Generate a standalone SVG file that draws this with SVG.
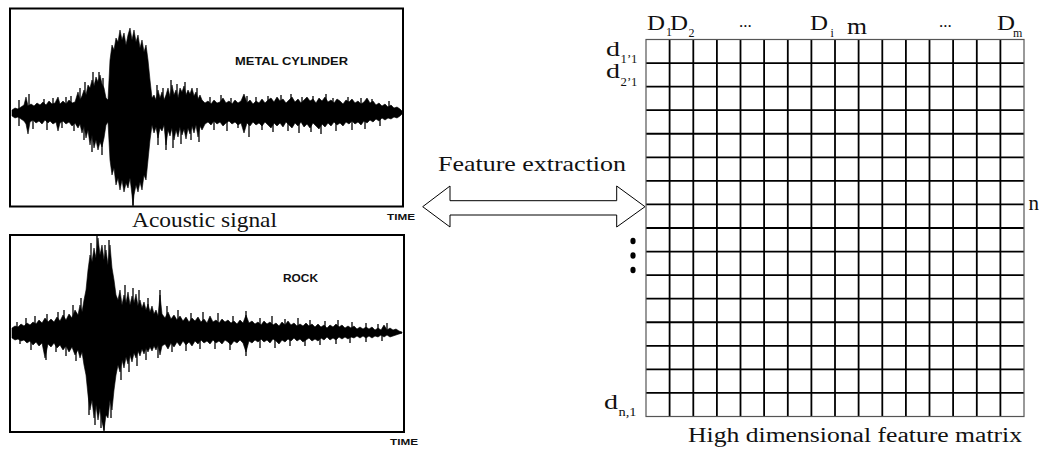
<svg xmlns="http://www.w3.org/2000/svg" width="1039" height="449" viewBox="0 0 1039 449">
<style>
.frame{fill:none;stroke:#000;stroke-width:2}
.wave{fill:#000;stroke:#000;stroke-width:0.6;stroke-linejoin:miter}
.spk{fill:none;stroke:#000;stroke-width:1.3}
.lbl{font-family:"Liberation Sans",Arial,sans-serif;font-weight:bold;fill:#111}
.ser{font-family:"Liberation Serif","DejaVu Serif",serif;fill:#111}
.grid{stroke:#000;stroke-width:1.8}
.border{fill:none;stroke:#555;stroke-width:1.2}
.arrow{fill:#fff;stroke:#000;stroke-width:1}
</style>
<rect width="1039" height="449" fill="#fff"/>

<g id="signal-metal">
<rect class="frame" x="10" y="8.5" width="393" height="198"/>
<path class="wave" d="M12,113 L12,110 15,108 18,109 21,107 24,105 26,97 28,106 31,104 34,106 37,103 40,105 43,102 46,105 49,101 52,104 55,103 58,97 60,104 63,101 66,104 69,100 72,103 75,102 78,92 80,100 82,96 84,90 86,95 88,85 90,88 92,80 94,86 96,77 98,82 100,75 102,84 104,88 106,98 108,100 110,60 112,45 114,50 116,38 118,42 120,30 122,40 124,33 126,45 128,35 130,28 132,40 134,30 136,42 138,35 140,48 142,40 144,52 146,45 148,60 150,80 152,98 154,95 156,100 158,90 160,98 162,92 164,100 166,95 168,88 170,97 172,85 174,95 176,90 178,98 180,88 182,92 184,86 186,95 188,90 190,94 192,88 194,96 196,92 198,99 200,95 202,100 205,103 208,101 211,104 214,100 217,103 220,102 223,98 226,103 229,101 232,104 235,100 238,103 241,101 244,94 247,103 250,100 253,104 256,101 259,103 262,99 265,103 268,100 271,98 274,102 277,97 280,101 283,99 286,103 289,100 292,97 295,102 298,99 301,103 304,100 307,97 310,101 313,99 316,103 319,98 322,101 325,97 328,102 331,100 334,103 337,99 340,101 343,104 346,100 349,102 352,99 355,103 358,101 361,104 364,102 367,98 370,103 373,101 376,105 379,103 382,106 385,104 388,107 391,105 394,108 397,107 400,109 402,111 402,113 Z"/>
<path class="wave" d="M12,113 L12,116 15,118 18,117 21,119 24,121 26,124 28,134 30,122 33,120 36,123 39,121 42,124 45,120 48,123 50,121 53,124 56,122 58,131 60,123 63,121 66,124 69,122 72,126 75,123 78,128 80,124 82,133 84,126 86,138 88,130 90,145 92,135 94,148 96,140 98,150 100,142 102,147 104,138 106,125 108,122 110,160 112,175 114,168 116,185 118,178 120,190 122,180 124,192 126,183 128,188 130,178 132,195 133,205 134,195 136,185 138,192 140,182 142,190 144,175 146,180 148,160 150,140 152,125 154,133 156,127 158,138 160,128 162,131 164,125 166,145 168,130 170,136 172,128 174,140 176,130 178,137 180,127 182,135 184,129 186,139 188,128 190,134 192,126 194,133 196,125 198,137 200,126 202,130 205,124 208,122 211,125 214,121 217,124 220,122 223,126 226,123 229,121 232,124 235,122 238,125 241,123 244,133 247,123 250,126 253,122 256,125 259,123 262,126 265,122 268,125 271,128 274,123 277,126 280,123 283,127 286,122 289,125 292,128 295,123 298,126 301,122 304,127 307,124 310,128 313,123 316,126 319,129 322,124 325,127 328,123 331,126 334,122 337,125 340,123 343,126 346,122 349,124 352,121 355,124 358,122 361,125 364,121 367,123 370,120 373,122 376,119 379,121 382,118 385,120 388,118 391,119 394,117 397,118 400,116 402,114 402,113 Z"/>
<path class="spk" d="M19,113V100 M29,113V94 M44,113V99 M53,113V98 M66,113V97 M71,113V96 M80,113V88 M85,113V82 M93,113V72 M99,113V72 M103,113V78 M157,113V85 M163,113V88 M171,113V80 M177,113V84 M185,113V82 M197,113V88 M210,113V97 M221,113V95 M231,113V98 M247,113V96 M256,113V97 M268,113V96 M281,113V95 M291,113V94 M302,113V97 M313,113V96 M326,113V94 M333,113V98 M348,113V97 M361,113V98 M372,113V99 M389,113V101 M19,113V126 M33,113V129 M47,113V130 M62,113V128 M74,113V131 M84,113V140 M92,113V152 M102,113V155 M158,113V145 M166,113V150 M173,113V148 M181,113V144 M191,113V140 M199,113V142 M214,113V130 M227,113V131 M238,113V128 M249,113V137 M262,113V130 M273,113V132 M288,113V131 M299,113V133 M311,113V132 M321,113V134 M336,113V131 M352,113V130 M365,113V129 M380,113V126 M133,113V207"/>
<text class="lbl" x="235" y="64.5" font-size="10.8" textLength="113" lengthAdjust="spacingAndGlyphs">METAL CYLINDER</text>
<text class="lbl" x="387" y="220" font-size="9.5" textLength="28" lengthAdjust="spacingAndGlyphs">TIME</text>
<text class="ser" x="132" y="227" font-size="21" textLength="145" lengthAdjust="spacingAndGlyphs">Acoustic signal</text>
</g>

<g id="signal-rock">
<rect class="frame" x="10" y="235" width="394" height="197"/>
<path class="wave" d="M12,333 L12,328 15,326 18,327 21,324 24,326 27,323 30,325 33,322 36,324 39,320 42,323 45,318 48,322 51,319 54,322 57,317 60,321 63,315 66,320 69,314 72,318 75,310 78,315 80,305 82,312 84,300 86,290 88,270 90,255 92,262 94,248 96,258 98,238 100,255 102,245 104,260 106,250 108,265 110,245 112,268 114,280 116,295 118,300 120,290 122,305 124,295 126,303 128,292 130,305 132,296 134,303 136,294 138,306 140,300 142,308 144,302 146,310 148,304 150,312 152,306 154,314 156,310 158,316 160,295 162,314 165,318 168,312 171,319 174,315 177,320 180,316 183,321 186,317 189,322 192,318 195,321 198,317 201,322 204,319 207,323 210,316 213,322 216,320 219,323 222,319 225,322 228,320 231,323 234,321 237,324 240,320 243,323 246,315 249,323 252,321 255,324 258,322 261,325 264,321 267,324 270,322 273,325 276,323 279,326 282,322 285,325 288,321 291,325 294,323 297,326 300,324 303,326 306,323 309,326 312,324 315,327 318,324 321,327 324,325 327,328 330,325 333,327 336,324 339,327 342,325 345,328 348,326 351,328 354,326 357,329 360,327 363,329 366,327 369,329 372,327 375,330 378,328 381,330 384,325 387,330 390,328 393,330 396,329 399,331 402,332 402,333 Z"/>
<path class="wave" d="M12,333 L12,338 15,340 18,339 21,341 24,340 27,343 30,341 33,345 36,342 39,346 42,343 45,358 48,344 51,347 54,343 57,348 60,345 63,350 66,346 69,352 72,347 75,355 78,350 80,358 82,352 84,365 86,375 88,395 90,410 92,400 94,418 96,405 98,420 100,408 102,422 104,430 106,415 108,418 110,400 112,410 114,390 116,375 118,365 120,372 122,360 124,368 126,357 128,364 130,355 132,362 134,353 136,358 138,351 140,356 142,349 144,354 146,348 148,352 150,347 152,351 154,346 156,350 158,345 160,355 162,346 165,344 168,349 171,343 174,347 177,342 180,346 183,341 186,345 189,342 192,346 195,341 198,344 201,340 204,343 207,341 210,344 213,340 216,343 219,341 222,344 225,340 228,342 231,345 234,341 237,343 240,340 243,343 246,352 249,341 252,343 255,340 258,342 261,339 264,342 267,340 270,343 273,339 276,341 279,344 282,340 285,342 288,339 291,341 294,338 297,341 300,339 303,342 306,340 309,338 312,341 315,339 318,341 321,338 324,340 327,337 330,340 333,338 336,340 339,337 342,339 345,337 348,339 351,337 354,338 357,336 360,338 363,336 366,338 369,336 372,338 375,336 378,337 381,335 384,337 387,335 390,337 393,336 396,335 399,334 402,333 Z"/>
<path class="spk" d="M17,333V322 M26,333V318 M35,333V316 M47,333V314 M58,333V312 M64,333V310 M73,333V305 M81,333V298 M91,333V243 M97,333V236 M105,333V245 M109,333V240 M125,333V285 M133,333V288 M139,333V290 M148,333V298 M160,333V290 M167,333V306 M178,333V310 M191,333V313 M203,333V312 M218,333V313 M233,333V316 M246,333V311 M260,333V318 M272,333V316 M285,333V319 M298,333V318 M310,333V320 M325,333V321 M338,333V320 M352,333V322 M366,333V323 M378,333V324 M387,333V323 M20,333V344 M31,333V350 M46,333V360 M56,333V352 M66,333V356 M76,333V361 M89,333V415 M95,333V425 M101,333V428 M104,333V432 M111,333V418 M121,333V380 M129,333V372 M137,333V366 M146,333V360 M158,333V358 M172,333V352 M186,333V351 M200,333V349 M215,333V349 M230,333V350 M246,333V356 M260,333V348 M275,333V348 M290,333V346 M305,333V346 M320,333V345 M336,333V344 M350,333V343 M366,333V342 M382,333V341"/>
<text class="lbl" x="283" y="281.5" font-size="10.8" textLength="35" lengthAdjust="spacingAndGlyphs">ROCK</text>
<text class="lbl" x="390" y="445" font-size="9.5" textLength="28" lengthAdjust="spacingAndGlyphs">TIME</text>
</g>

<g id="connectors">
<polygon class="arrow" points="422.7,206.7 450,186 450,200.7 616.7,200.7 616.7,186 645,206.7 616.7,227 616.7,215 450,215 450,227"/>
<text class="ser" x="438" y="170.5" font-size="21" textLength="188" lengthAdjust="spacingAndGlyphs">Feature extraction</text>
</g>

<g id="feature-matrix">
<g class="grid">
<line x1="669.6" y1="39.5" x2="669.6" y2="416.5"/><line x1="693.3" y1="39.5" x2="693.3" y2="416.5"/><line x1="716.9" y1="39.5" x2="716.9" y2="416.5"/><line x1="740.5" y1="39.5" x2="740.5" y2="416.5"/><line x1="764.1" y1="39.5" x2="764.1" y2="416.5"/><line x1="787.8" y1="39.5" x2="787.8" y2="416.5"/><line x1="811.4" y1="39.5" x2="811.4" y2="416.5"/><line x1="835" y1="39.5" x2="835" y2="416.5"/><line x1="858.6" y1="39.5" x2="858.6" y2="416.5"/><line x1="882.3" y1="39.5" x2="882.3" y2="416.5"/><line x1="905.9" y1="39.5" x2="905.9" y2="416.5"/><line x1="929.5" y1="39.5" x2="929.5" y2="416.5"/><line x1="953.1" y1="39.5" x2="953.1" y2="416.5"/><line x1="976.8" y1="39.5" x2="976.8" y2="416.5"/><line x1="1000.4" y1="39.5" x2="1000.4" y2="416.5"/>
<line x1="646" y1="63.1" x2="1024" y2="63.1"/><line x1="646" y1="86.6" x2="1024" y2="86.6"/><line x1="646" y1="110.2" x2="1024" y2="110.2"/><line x1="646" y1="133.75" x2="1024" y2="133.75"/><line x1="646" y1="157.3" x2="1024" y2="157.3"/><line x1="646" y1="180.9" x2="1024" y2="180.9"/><line x1="646" y1="204.4" x2="1024" y2="204.4"/><line x1="646" y1="228" x2="1024" y2="228"/><line x1="646" y1="251.6" x2="1024" y2="251.6"/><line x1="646" y1="275.1" x2="1024" y2="275.1"/><line x1="646" y1="298.7" x2="1024" y2="298.7"/><line x1="646" y1="322.25" x2="1024" y2="322.25"/><line x1="646" y1="345.8" x2="1024" y2="345.8"/><line x1="646" y1="369.4" x2="1024" y2="369.4"/><line x1="646" y1="392.9" x2="1024" y2="392.9"/>
</g>
<rect class="border" x="646" y="39.5" width="378" height="377"/>
<text class="ser" x="647" y="30" font-size="21" textLength="18" lengthAdjust="spacingAndGlyphs">D</text><text class="ser" x="666" y="36" font-size="12">1</text>
<text class="ser" x="670" y="30" font-size="21" textLength="18" lengthAdjust="spacingAndGlyphs">D</text><text class="ser" x="688.5" y="36.5" font-size="12">2</text>
<text class="ser" x="739" y="27" font-size="17">...</text>
<text class="ser" x="810" y="30" font-size="21" textLength="18" lengthAdjust="spacingAndGlyphs">D</text><text class="ser" x="830.5" y="37" font-size="12">i</text>
<text class="ser" x="847" y="34" font-size="23" textLength="20" lengthAdjust="spacingAndGlyphs">m</text>
<text class="ser" x="939" y="27" font-size="17">...</text>
<text class="ser" x="997" y="30" font-size="21" textLength="18" lengthAdjust="spacingAndGlyphs">D</text><text class="ser" x="1013" y="37" font-size="12">m</text>
<text class="ser" x="606" y="55.5" font-size="21" textLength="14" lengthAdjust="spacingAndGlyphs">d</text><text class="ser" x="620.5" y="63" font-size="12" textLength="17" lengthAdjust="spacingAndGlyphs">1’1</text>
<text class="ser" x="606" y="78" font-size="21" textLength="14" lengthAdjust="spacingAndGlyphs">d</text><text class="ser" x="620.5" y="86" font-size="12" textLength="17" lengthAdjust="spacingAndGlyphs">2’1</text>
<text class="ser" x="604" y="409" font-size="21" textLength="14" lengthAdjust="spacingAndGlyphs">d</text><text class="ser" x="618.5" y="416" font-size="12" textLength="18" lengthAdjust="spacingAndGlyphs">n,1</text>
<text class="ser" x="1028.5" y="210" font-size="21">n</text>
<ellipse cx="633" cy="241" rx="2.6" ry="3.2" fill="#000"/>
<ellipse cx="633" cy="255.5" rx="2.6" ry="3.2" fill="#000"/>
<ellipse cx="633" cy="270" rx="2.6" ry="3.2" fill="#000"/>
<text class="ser" x="688" y="442" font-size="20" textLength="334" lengthAdjust="spacingAndGlyphs">High dimensional feature matrix</text>
</g>
</svg>
